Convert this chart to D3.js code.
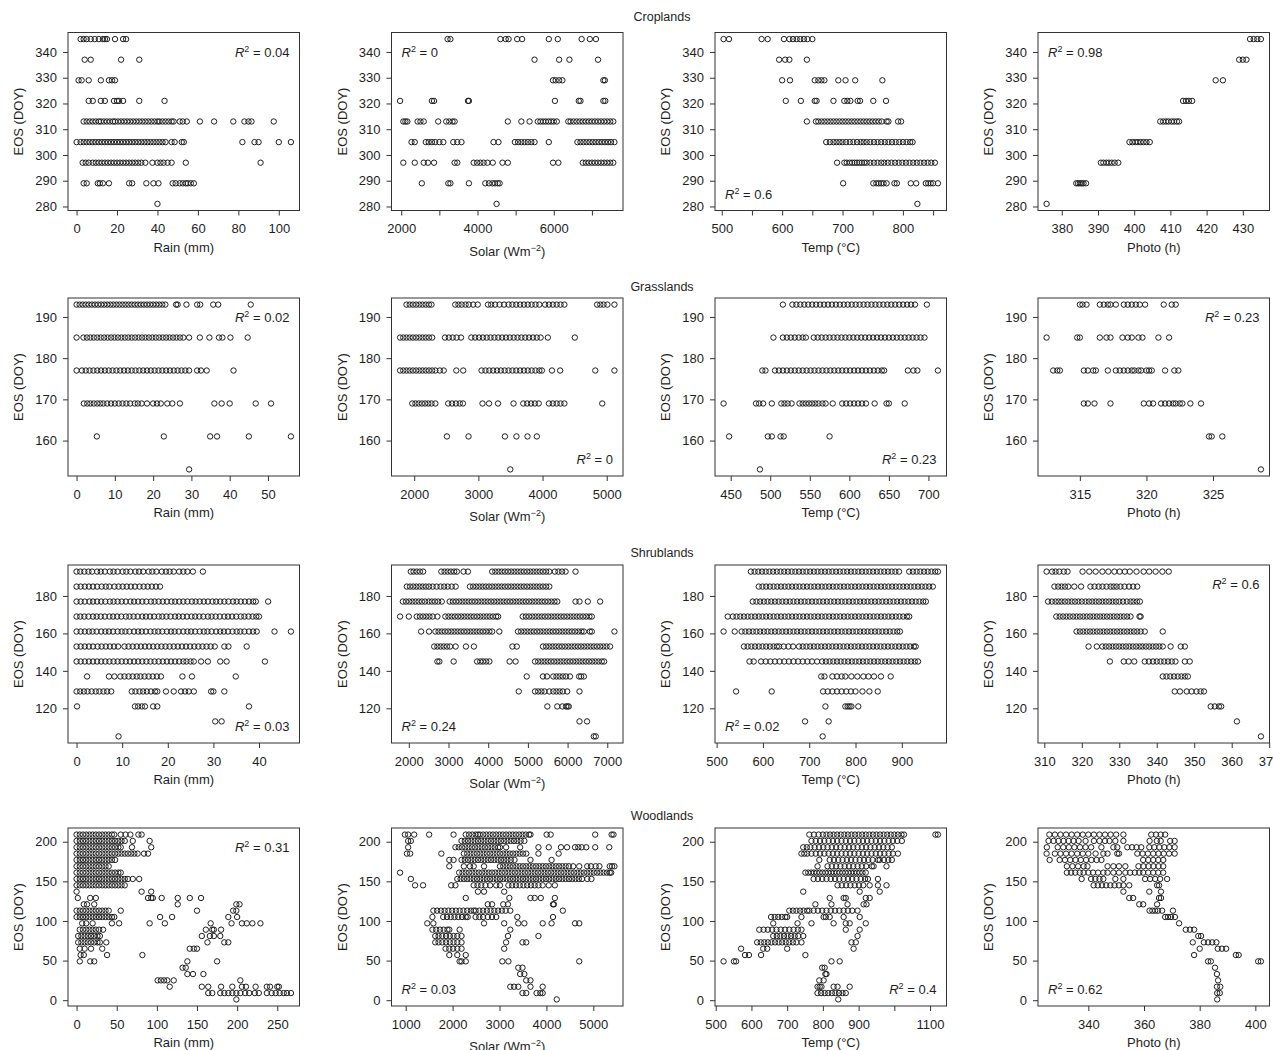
<!DOCTYPE html>
<html lang="en">
<head>
<meta charset="UTF-8">
<title>EOS against climate drivers by biome</title>
<script src="https://d3js.org/d3.v7.min.js"></script>
<style>
  body { margin: 0; background: #fff; }
  svg text { font-family: "Liberation Sans", Arial, Helvetica, sans-serif; fill: #1e1e1e; }
  .tick text { font-size: 13px; }
  .tick line { stroke: #333; }
</style>
</head>
<body>
<div id="chart"></div>
<script>
// rows = biomes, columns = drivers
const biomes = ["Croplands", "Grasslands", "Shrublands", "Woodlands"];
const drivers = ["Rain", "Solar", "Temp", "Photo"];
const xTitles = ["Rain (mm)", "Solar (Wm", "Temp (\u00B0C)", "Photo (h)"];
const r2Text = [
  ["0.04", "0", "0.6", "0.98"],
  ["0.02", "0", "0.23", "0.23"],
  ["0.03", "0.24", "0.02", "0.6"],
  ["0.31", "0.03", "0.4", "0.62"]
];
const r2Corner = [
  ["tr", "tl", "bl", "tl"],
  ["tr", "br", "br", "tr"],
  ["br", "bl", "bl", "tr"],
  ["tr", "bl", "br", "bl"]
];
const yTicks = [
  [280, 290, 300, 310, 320, 330, 340],
  [160, 170, 180, 190],
  [120, 140, 160, 180],
  [0, 50, 100, 150, 200]
];
const xTicks = [
  [[0, 20, 40, 60, 80, 100], [2000, 3000, 4000, 5000, 6000, 7000], [500, 550, 600, 650, 700, 750, 800, 850], [380, 390, 400, 410, 420, 430]],
  [[0, 10, 20, 30, 40, 50], [2000, 3000, 4000, 5000], [450, 500, 550, 600, 650, 700], [315, 320, 325]],
  [[0, 10, 20, 30, 40], [2000, 3000, 4000, 5000, 6000, 7000], [500, 600, 700, 800, 900], [310, 320, 330, 340, 350, 360, 370]],
  [[0, 50, 100, 150, 200, 250], [1000, 2000, 3000, 4000, 5000], [500, 600, 700, 800, 900, 1000, 1100], [340, 360, 380, 400]]
];
// ticks drawn without a label (R drops overlapping labels)
const xUnlabelled = [
  [[], [3000, 5000, 7000], [550, 650, 750, 850], []],
  [[], [], [], []],
  [[], [], [], []],
  [[], [], [1000], []]
];

// each row: [EOS (DOY), [driver values...]]
const cropRain = [
  [345, [2, 3.5, 5, 7, 9, 11, 13, 14, 15, 19, 23, 24.5]],
  [337, [4, 7, 22, 31]],
  [329, [1, 2.5, 6, 12, 16, 17.5, 19]],
  [321, [6, 8, 12, 14, 18.5, 20, 21, 23, 31, 43.5]],
  [313, [3.5, 5, 6.5, 8, 9.5, 11, 12, 13.5, 15, 16.5, 18, 19, 20.5, 22, 23.5, 25, 26.5, 28, 29.5, 31, 32.5, 34, 35.5, 37, 38.5, 40, 41, 42.5, 44, 45.5, 47, 48, 51, 52.5, 54.5, 61, 68, 77.5, 83, 85, 86.5, 97.5]],
  [305, [0, 2, 3.5, 5, 6.5, 8, 9.5, 11, 12.5, 14, 15.5, 17, 18.5, 20, 21.5, 23, 24.5, 26, 27.5, 29, 30.5, 32, 33.5, 35, 36.5, 38, 39.5, 41, 42.5, 44, 47, 48.5, 52, 53, 82, 88, 90, 100, 106]],
  [297, [3, 4.5, 6, 8, 9.5, 11, 12.5, 14, 15.5, 17, 18.5, 20, 21.5, 23, 24.5, 26, 27.5, 29, 30.5, 32, 34, 37.5, 40, 41.5, 43, 45, 47, 54, 91]],
  [289, [3.5, 5, 10.5, 11.5, 13, 16, 26, 27.5, 34.5, 38, 40.5, 47.5, 49, 51, 52.5, 54, 55, 56.5, 58]],
  [281, [40]]
];
const cropSolar = [
  [345, [3215, 3290, 4600, 4740, 4815, 5040, 5170, 5870, 6105, 6730, 6945, 7105]],
  [337, [5495, 6140, 6410, 7160]],
  [329, [5980, 6050, 6140, 6225, 7300, 7340]],
  [321, [1970, 2805, 2860, 3750, 3775, 6030, 6655, 6700, 7300, 7350]],
  [313, [2055, 2110, 2160, 2430, 2505, 2590, 2970, 3180, 3260, 3345, 3400, 4795, 5150, 5365, 5580, 5650, 5720, 5790, 5860, 5930, 6000, 6080, 6380, 6440, 6520, 6600, 6680, 6760, 6840, 6920, 7000, 7080, 7160, 7240, 7320, 7400, 7480, 7560]],
  [305, [2270, 2355, 2645, 2720, 2805, 2890, 3000, 3105, 3365, 3470, 3580, 4420, 4550, 4980, 5065, 5150, 5235, 5320, 5410, 5495, 5870, 6620, 6700, 6780, 6860, 6940, 7020, 7100, 7180, 7260, 7340, 7420, 7500, 7590]],
  [297, [2055, 2355, 2590, 2700, 2860, 3400, 3470, 3900, 3990, 4075, 4160, 4260, 4400, 4655, 4795, 5980, 6120, 6760, 6840, 6920, 7000, 7080, 7160, 7240, 7320, 7400, 7480, 7560]],
  [289, [2540, 3235, 3290, 3775, 4205, 4300, 4390, 4460, 4530, 4580]],
  [281, [4500]]
];
const cropTemp = [
  [345, [503, 512, 566, 576, 603, 612, 618, 624, 630, 636, 642, 650]],
  [337, [595, 605, 612, 641]],
  [329, [600, 613, 654, 660, 665, 670, 693, 705, 721, 766]],
  [321, [606, 631, 654, 657, 685, 703, 708, 713, 725, 729, 751, 772]],
  [313, [641, 656, 660, 665, 670, 675, 680, 685, 690, 695, 700, 705, 710, 715, 720, 725, 730, 735, 740, 745, 750, 755, 760, 765, 773, 776, 792, 797]],
  [305, [673, 679, 685, 690, 695, 700, 706, 712, 718, 724, 730, 735, 740, 746, 752, 758, 764, 770, 776, 782, 788, 794, 800, 806, 812, 816]],
  [297, [691, 703, 707, 712, 716, 720, 724, 728, 732, 736, 740, 746, 752, 758, 764, 769, 775, 781, 787, 793, 799, 805, 811, 817, 823, 829, 835, 841, 847, 853]],
  [289, [701, 751, 756, 760, 764, 768, 773, 786, 790, 813, 822, 838, 842, 846, 850, 858]],
  [281, [824]]
];
const cropPhoto = [
  [345, [432, 433, 434, 435]],
  [337, [429, 430, 431]],
  [329, [422.5, 424.5]],
  [321, [413.5, 414.3, 415.1, 416]],
  [313, [407.2, 408, 408.8, 409.5, 410.3, 411, 411.8, 412.4]],
  [305, [398.7, 399.5, 400.3, 401, 401.8, 402.6, 403.4, 404.3]],
  [297, [390.8, 391.5, 392.3, 393, 393.8, 394.6, 395.6]],
  [289, [384, 384.5, 385, 385.5, 386, 386.7]],
  [281, [375.8]]
];

const grassRain = [
  [193, [0, 0.8, 1.6, 2.4, 3.2, 4, 4.8, 5.6, 6.4, 7.2, 8, 8.8, 9.6, 10.4, 11.2, 12, 12.8, 13.6, 14.4, 15.2, 16, 16.8, 17.6, 18.4, 19.2, 20, 20.8, 21.6, 22.4, 23.2, 26, 26.4, 28.7, 31.5, 32.3, 35.7, 37, 45.5]],
  [185, [0, 1.8, 2.7, 3.6, 4.5, 5.4, 6.3, 7.2, 8.1, 9, 9.9, 10.8, 11.7, 12.6, 13.5, 14.4, 15.3, 16.2, 17.1, 18, 18.9, 19.8, 20.7, 21.6, 22.5, 23.4, 24.3, 25.2, 26.1, 27, 27.9, 29.4, 32.2, 34.7, 37.2, 38.1, 40.2, 44.7]],
  [177, [0, 1.4, 2.4, 3.4, 4.4, 5.4, 6.4, 7.4, 8.4, 9.4, 10.4, 11.4, 12.4, 13.4, 14.4, 15.4, 16.4, 17.4, 18.4, 19.4, 20.4, 21.4, 22.4, 23.4, 24.4, 25.4, 26.4, 27.4, 28.4, 29.4, 31.5, 32.5, 34, 41]],
  [169, [1.9, 2.8, 3.6, 4.5, 5.4, 6.2, 7, 8, 9, 10, 11, 12, 13, 14, 15.2, 16, 17, 18.4, 20, 21, 22, 23.7, 25, 27, 36, 37.9, 40, 46.8, 50.8]],
  [161, [5.3, 22.8, 34.9, 36.7, 45, 56]],
  [153, [29.4]]
];
const grassSolar = [
  [193, [1880, 1930, 1980, 2030, 2080, 2130, 2180, 2230, 2270, 2640, 2690, 2740, 2800, 2850, 2920, 2990, 3150, 3200, 3260, 3330, 3400, 3470, 3530, 3590, 3650, 3710, 3770, 3830, 3890, 3950, 4040, 4100, 4160, 4220, 4280, 4340, 4850, 4900, 4950, 5010, 5120]],
  [185, [1780, 1830, 1880, 1930, 1980, 2030, 2080, 2130, 2180, 2230, 2280, 2480, 2540, 2600, 2660, 2730, 2890, 2950, 3010, 3070, 3130, 3190, 3250, 3310, 3370, 3430, 3490, 3550, 3610, 3670, 3730, 3790, 3850, 3910, 3970, 4083, 4503]],
  [177, [1780, 1830, 1880, 1930, 1980, 2030, 2080, 2130, 2180, 2230, 2280, 2330, 2400, 2460, 2656, 2764, 3050, 3110, 3170, 3230, 3290, 3350, 3410, 3470, 3530, 3590, 3650, 3710, 3770, 3830, 3890, 3950, 3990, 4147, 4274, 4822, 5120]],
  [169, [1970, 2020, 2070, 2120, 2170, 2220, 2270, 2330, 2530, 2590, 2650, 2710, 2760, 3064, 3166, 3306, 3548, 3700, 3760, 3820, 3880, 3940, 4100, 4160, 4220, 4280, 4340, 4930]],
  [161, [2510, 2847, 3414, 3593, 3765, 3911]],
  [153, [3497]]
];
const grassTemp = [
  [193, [516, 528, 533, 538, 543, 548, 553, 558, 563, 568, 573, 578, 583, 588, 593, 598, 603, 608, 613, 618, 623, 628, 633, 638, 643, 648, 653, 658, 663, 668, 673, 678, 683, 698]],
  [185, [504, 516, 521, 526, 531, 536, 541, 545, 555, 560, 565, 570, 575, 580, 585, 590, 595, 600, 605, 610, 615, 620, 625, 630, 635, 640, 645, 650, 655, 660, 665, 670, 675, 680, 685, 690, 695]],
  [177, [490, 494, 506, 511, 516, 521, 526, 531, 536, 541, 546, 551, 556, 561, 566, 571, 576, 581, 586, 591, 596, 601, 606, 611, 616, 621, 626, 631, 636, 641, 644, 674, 681, 686, 712]],
  [169, [441, 482, 486, 491, 502, 514, 518, 522, 527, 537, 541, 545, 549, 553, 557, 561, 566, 570, 579, 591, 596, 601, 606, 611, 616, 621, 632, 647, 650, 670]],
  [161, [448, 497, 502, 513, 517, 575]],
  [153, [487]]
];
const grassPhoto = [
  [193, [315, 315.2, 315.5, 316.5, 316.8, 317.1, 317.3, 317.7, 318.3, 318.6, 318.9, 319.2, 319.5, 319.9, 321.3, 321.9, 322.2]],
  [185, [312.5, 314.8, 315, 316.5, 317, 317.3, 318.2, 318.6, 318.9, 319.4, 319.7, 320.9, 321.7]],
  [177, [313, 313.3, 313.5, 315.3, 315.6, 316, 316.2, 317.1, 317.7, 318, 318.3, 318.6, 318.9, 319.1, 319.4, 319.6, 320, 320.2, 320.4, 321.4, 322.1, 322.4]],
  [169, [315.3, 315.6, 316.1, 317.3, 319.8, 320.2, 320.5, 321.1, 321.4, 321.7, 322, 322.2, 322.5, 322.7, 323.3, 324.1]],
  [161, [324.7, 324.9, 325.7]],
  [153, [328.6]]
];

const shrubRain = [
  [193, [0, 0.8, 1.7, 2.6, 3.4, 4.5, 5.3, 6.2, 7.3, 8.1, 9, 10.1, 10.9, 11.8, 12.9, 13.7, 14.6, 15.8, 16.6, 17.5, 18.7, 19.6, 20.4, 21.3, 22.5, 23.4, 24.3, 25.5, 27.7]],
  [185, [0, 0.9, 1.8, 2.7, 3.6, 4.5, 5.5, 6.4, 7.2, 8.3, 9.2, 10.1, 11, 11.9, 12.8, 13.8, 14.7, 15.6, 16.5, 17.4, 18.3]],
  [177, [0, 0.9, 1.8, 2.8, 3.6, 4.5, 5.4, 6.3, 7.3, 8.1, 9, 9.9, 10.8, 11.8, 12.6, 13.5, 14.4, 15.3, 16.3, 17.1, 18, 18.9, 19.8, 20.8, 21.6, 22.5, 23.4, 24.3, 25.3, 26.1, 27, 27.9, 28.8, 29.8, 30.6, 31.5, 32.4, 33.3, 34.3, 35.1, 36, 36.9, 37.8, 38.7, 39.3, 42]],
  [169, [0, 0.8, 1.7, 2.6, 3.6, 4.4, 5.3, 6.2, 7.2, 8, 8.9, 9.8, 10.8, 11.6, 12.5, 13.4, 14.4, 15.2, 16.1, 17, 18, 18.8, 19.7, 20.6, 21.6, 22.4, 23.3, 24.2, 25.2, 26, 26.9, 27.8, 28.8, 29.6, 30.5, 31.4, 32.4, 33.2, 34.1, 35, 36, 36.8, 37.7, 38.6, 39.4, 40]],
  [161, [0, 0.9, 1.8, 2.7, 3.5, 4.4, 5.4, 6.3, 7.1, 8, 9, 9.9, 10.7, 11.6, 12.6, 13.5, 14.3, 15.2, 16.2, 17.1, 17.9, 18.8, 19.8, 20.7, 21.5, 22.4, 23.4, 24.3, 25.1, 26, 27, 27.9, 28.7, 29.6, 30.6, 31.5, 32.3, 33.2, 34.2, 35.1, 35.9, 36.8, 37.8, 38.7, 39.5, 43.4, 47]],
  [153, [0, 0.9, 1.8, 2.7, 3.6, 4.6, 5.5, 6.4, 7.3, 8.2, 9.1, 10.5, 11.4, 12.3, 13.2, 14.1, 15, 15.9, 16.8, 17.7, 18.6, 19.5, 20.4, 21.3, 22.2, 23.1, 24, 24.9, 25.8, 26.7, 27.6, 28.5, 29.4, 30.3, 32.4, 33.3, 37.3]],
  [145, [0, 0.9, 1.8, 2.7, 3.6, 4.5, 5.4, 6.3, 7.2, 8.1, 9, 9.9, 10.8, 11.7, 12.6, 13.5, 14.4, 15.3, 16.2, 17.1, 18, 18.9, 19.8, 20.7, 21.6, 22.5, 23.4, 24.1, 25, 25.7, 27.3, 28.8, 31.5, 32.9, 41.3]],
  [137, [2.3, 7.1, 8.3, 9.6, 10.5, 11.4, 12.3, 13.2, 14, 14.9, 15.8, 16.7, 17.6, 18.5, 23.2, 25.3, 34.9]],
  [129, [0, 0.8, 1.6, 2.4, 3.3, 4.2, 5, 5.9, 6.7, 7.6, 12.1, 12.9, 13.8, 14.6, 15.4, 16.3, 17.2, 17.7, 19.6, 21.3, 22.9, 23.8, 24.6, 25.7, 29.5, 30, 32.4]],
  [121, [0.1, 12.8, 13.5, 14.3, 15, 16.8, 17.7, 37.8]],
  [113, [30.4, 31.8]],
  [105, [9.2]]
];
const shrubSolar = [
  [193, [2050, 2120, 2200, 2280, 2360, 2820, 2900, 2980, 3060, 3140, 3210, 3380, 3490, 4100, 4180, 4260, 4340, 4420, 4500, 4580, 4660, 4740, 4820, 4900, 4980, 5060, 5140, 5220, 5300, 5380, 5460, 5540, 5680, 5770, 5860, 5950, 6200]],
  [185, [1950, 2030, 2110, 2190, 2270, 2350, 2430, 2510, 2600, 2700, 2800, 2890, 2980, 3080, 3180, 3540, 3620, 3700, 3780, 3860, 3940, 4020, 4100, 4180, 4260, 4340, 4420, 4500, 4580, 4660, 4740, 4820, 4900, 4980, 5060, 5140, 5220, 5300, 5380, 5460, 5540]],
  [177, [1850, 1930, 2010, 2090, 2170, 2250, 2330, 2410, 2500, 2580, 2660, 2740, 2830, 3030, 3110, 3190, 3270, 3350, 3430, 3510, 3590, 3670, 3750, 3830, 3910, 3990, 4070, 4150, 4230, 4310, 4390, 4470, 4550, 4630, 4710, 4790, 4870, 4950, 5030, 5110, 5190, 5270, 5350, 5430, 5510, 5590, 5670, 5740, 6200, 6300, 6510, 6820]],
  [169, [1780, 2000, 2200, 2280, 2360, 2440, 2520, 2600, 2720, 2920, 3000, 3080, 3160, 3240, 3320, 3400, 3480, 3560, 3640, 3720, 3800, 3880, 3960, 4040, 4120, 4200, 4250, 4870, 4950, 5030, 5110, 5190, 5270, 5350, 5430, 5510, 5590, 5670, 5750, 5830, 5910, 5990, 6070, 6150, 6230, 6310, 6390, 6470, 6550, 6610]],
  [161, [2310, 2510, 2670, 2750, 2830, 2910, 2990, 3070, 3150, 3230, 3310, 3390, 3470, 3550, 3630, 3710, 3790, 3870, 3950, 4030, 4100, 4280, 4750, 4830, 4910, 4990, 5070, 5150, 5230, 5310, 5390, 5470, 5550, 5630, 5710, 5790, 5870, 5950, 6030, 6110, 6190, 6270, 6350, 6410, 6560, 6610, 7180]],
  [153, [2640, 2720, 2800, 2880, 2960, 3040, 3180, 3440, 3640, 4610, 4720, 5380, 5460, 5540, 5620, 5700, 5780, 5860, 5940, 6020, 6100, 6180, 6260, 6340, 6420, 6500, 6580, 6660, 6740, 6820, 6900, 6980, 7070]],
  [145, [2720, 2770, 3130, 3720, 3800, 3870, 3950, 4030, 4540, 4690, 5180, 5260, 5340, 5420, 5500, 5580, 5660, 5740, 5820, 5900, 5980, 6060, 6140, 6220, 6300, 6380, 6460, 6540, 6620, 6700, 6780, 6860, 6920]],
  [137, [4970, 5380, 5480, 5640, 5720, 5800, 5880, 5960, 6060, 6290, 6340, 6410]],
  [129, [4770, 5180, 5260, 5340, 5420, 5540, 5640, 5720, 5800, 5880, 5990, 6300]],
  [121, [5490, 5740, 5870, 5960, 6000, 6030]],
  [113, [6300, 6490]],
  [105, [6660, 6710]]
];
const shrubTemp = [
  [193, [574, 582, 590, 598, 606, 614, 622, 630, 638, 646, 654, 662, 670, 678, 686, 694, 702, 710, 718, 726, 734, 742, 750, 758, 766, 774, 782, 790, 798, 806, 814, 822, 830, 838, 846, 854, 862, 870, 878, 886, 894, 916, 924, 932, 940, 948, 956, 964, 972, 978]],
  [185, [591, 599, 607, 615, 623, 631, 639, 647, 655, 663, 671, 679, 687, 695, 703, 711, 719, 727, 735, 743, 751, 759, 767, 775, 783, 791, 799, 807, 815, 823, 831, 839, 847, 855, 863, 871, 879, 887, 895, 903, 911, 919, 927, 935, 943, 951, 959, 967]],
  [177, [578, 586, 594, 602, 610, 618, 626, 634, 642, 650, 658, 666, 674, 682, 690, 698, 706, 714, 722, 730, 738, 746, 754, 762, 770, 778, 786, 794, 802, 810, 818, 826, 834, 842, 850, 858, 866, 874, 882, 890, 898, 906, 914, 922, 930, 938, 946, 952]],
  [169, [524, 535, 543, 551, 559, 567, 575, 583, 591, 599, 607, 615, 623, 631, 639, 647, 655, 663, 671, 679, 687, 695, 703, 711, 719, 727, 735, 743, 751, 759, 767, 775, 783, 791, 799, 807, 815, 823, 831, 839, 847, 855, 863, 871, 879, 887, 895, 903, 911, 916]],
  [161, [515, 539, 554, 562, 570, 578, 586, 594, 602, 610, 618, 626, 634, 642, 650, 658, 666, 674, 682, 690, 698, 706, 714, 722, 730, 738, 746, 754, 762, 770, 778, 786, 794, 802, 810, 818, 826, 834, 842, 850, 858, 866, 874, 882, 890, 896]],
  [153, [559, 567, 575, 583, 591, 599, 607, 615, 623, 630, 635, 645, 655, 665, 678, 686, 694, 702, 710, 718, 726, 734, 742, 750, 758, 766, 774, 782, 790, 798, 806, 814, 822, 830, 838, 846, 854, 862, 870, 878, 886, 894, 902, 910, 918, 926, 930]],
  [145, [571, 580, 596, 606, 616, 626, 636, 646, 656, 666, 676, 686, 696, 706, 717, 728, 736, 744, 752, 760, 768, 776, 784, 792, 800, 808, 816, 824, 832, 840, 848, 856, 864, 872, 880, 888, 896, 904, 912, 920, 928, 935]],
  [137, [726, 733, 750, 760, 770, 778, 791, 804, 817, 828, 840, 855, 876]],
  [129, [542, 619, 730, 740, 750, 760, 770, 780, 790, 800, 815, 830, 848]],
  [121, [735, 778, 783, 787, 791, 806]],
  [113, [691, 742]],
  [105, [729]]
];
const shrubPhoto = [
  [193, [310.6, 312.1, 313, 314, 315.2, 316.2, 320.2, 322, 323.7, 325.5, 327.1, 328.7, 330.1, 331.5, 332.8, 334.6, 336.5, 338, 339.7, 341.5, 343.2]],
  [185, [312.7, 313.7, 314.6, 315.5, 316.4, 318, 319.8, 322.3, 323.4, 324.5, 325.5, 326.6, 327.7, 328.5, 329.3, 330.3, 331.4, 332.6, 333.7, 334.8]],
  [177, [311, 312, 313, 313.8, 314.6, 315.5, 316.4, 317.3, 318.2, 319.1, 320, 321, 321.9, 322.8, 323.7, 324.6, 325.5, 326.4, 327.3, 328.2, 329.1, 330, 331, 332, 333, 333.8, 334.7, 335.5]],
  [169, [313.2, 314.1, 315, 315.9, 316.8, 317.7, 318.6, 319.5, 320.4, 321.3, 322.2, 323.1, 324, 324.9, 325.8, 326.7, 327.6, 328.5, 329.4, 330.3, 331.2, 332.1, 333, 335.4, 335.7]],
  [161, [318.6, 319.5, 320.4, 321.3, 322.2, 323.1, 324, 324.9, 325.8, 326.7, 327.6, 328.5, 329.4, 330.3, 331.2, 332.1, 333, 333.9, 334.8, 335.7, 336.8, 341.6]],
  [153, [321.8, 324, 325.5, 326.4, 327.3, 328.2, 329.1, 330, 330.9, 331.8, 332.7, 333.6, 334.5, 335.4, 336.2, 337.1, 338, 338.9, 339.8, 340.7, 341.6, 343.7, 346.4, 347.5]],
  [145, [327.5, 331.2, 332.5, 334, 336.8, 337.9, 339, 340, 341, 342, 343, 344, 345, 347.5, 348.8]],
  [137, [341.6, 342.6, 343.6, 344.6, 345.6, 346.6, 347.5, 348.3]],
  [129, [344.8, 346.2, 348, 349.3, 350.6, 351.7, 352.6]],
  [121, [354.4, 355.5, 356.6, 357.2]],
  [113, [361.4]],
  [105, [367.8]]
];

const woodRain = [
  [209, [0, 4, 8, 12, 16, 20, 24, 28, 32, 36, 40, 44, 47, 55, 61, 67, 77, 81]],
  [201, [0, 4, 8, 12, 16, 20, 24, 28, 32, 36, 40, 44, 48, 52, 56, 60, 70, 91]],
  [193, [0, 4, 8, 12, 16, 20, 24, 28, 32, 36, 40, 44, 48, 52, 55, 69, 93]],
  [185, [0, 4, 8, 12, 16, 20, 24, 28, 32, 36, 40, 44, 48, 52, 56, 60, 64, 68, 72, 76, 84, 89]],
  [177, [0, 4, 8, 12, 16, 20, 24, 28, 32, 36, 40, 44, 48]],
  [169, [0, 4, 8, 12, 16, 20, 24, 28, 32, 36, 40]],
  [161, [0, 4, 8, 12, 16, 20, 24, 28, 32, 36, 40, 44, 48, 52, 55]],
  [153, [0, 4, 8, 12, 16, 20, 24, 28, 32, 36, 40, 44, 48, 52, 56, 60, 64, 70, 78]],
  [145, [0, 4, 8, 12, 16, 20, 24, 28, 32, 36, 40, 44, 48, 52, 56, 60]],
  [137, [0, 81, 93]],
  [129, [1.5, 17, 24, 89, 93, 95, 106, 126, 141, 155]],
  [121, [9, 13, 22, 126, 199, 203]],
  [113, [0, 4, 8, 12, 16, 20, 24, 28, 32, 36, 40, 55, 150, 195, 199]],
  [105, [0, 4, 8, 12, 16, 20, 24, 28, 32, 36, 40, 44, 47, 104, 119, 189, 200]],
  [97, [7, 12, 20, 44, 53, 91, 110, 167, 193, 206, 212, 219, 229]],
  [89, [4, 8, 12, 16, 20, 24, 28, 33, 161, 169, 171, 180]],
  [81, [2, 6, 10, 14, 18, 22, 26, 29, 156, 166, 171, 179]],
  [73, [2, 6, 10, 14, 18, 22, 26, 29, 37, 163, 184, 189]],
  [65, [4, 10, 18, 32, 141, 146, 150]],
  [57, [5, 9, 38, 82]],
  [49, [4, 17, 22, 138, 175]],
  [41, [132, 136]],
  [33, [138, 145, 158]],
  [25, [101, 105, 109, 113, 121, 204]],
  [17, [116, 156, 164, 180, 194, 206, 211, 223, 237, 241, 250, 252]],
  [9, [164, 169, 179, 184, 189, 194, 199, 204, 210, 215, 222, 227, 237, 243, 248, 253, 258, 262, 267]],
  [1, [199]]
];
const woodSolar = [
  [209, [983, 1052, 1180, 1500, 2020, 2280, 2350, 2420, 2490, 2540, 2580, 2650, 2720, 2790, 2860, 2930, 3000, 3070, 3140, 3210, 3280, 3350, 3420, 3490, 3560, 3630, 3660, 4005, 4090, 5040, 5390, 5430]],
  [201, [1052, 1110, 2190, 2260, 2330, 2400, 2470, 2540, 2610, 2680, 2750, 2820, 2890, 2960, 3030, 3100, 3170, 3240, 3310, 3380, 3450, 3530]],
  [193, [1052, 2060, 2130, 2200, 2270, 2340, 2410, 2480, 2550, 2620, 2690, 2760, 2830, 2900, 2970, 3010, 3140, 3440, 3830, 4050, 4310, 4440, 4610, 4680, 4750, 4850, 5040, 5340]],
  [185, [1026, 1095, 1760, 2240, 2310, 2380, 2450, 2520, 2590, 2660, 2730, 2800, 2870, 2940, 3010, 3080, 3150, 3220, 3290, 3360, 3430, 3500, 3570, 3830, 4260]],
  [177, [1930, 2020, 2190, 2260, 2330, 2400, 2470, 2540, 2610, 2680, 2750, 2820, 2890, 2960, 3030, 3100, 3170, 3240, 3320, 3660, 4110]],
  [169, [1930, 2240, 2370, 2450, 2670, 3010, 3080, 3150, 3220, 3290, 3360, 3430, 3500, 3570, 3640, 3710, 3780, 3850, 3920, 3990, 4060, 4130, 4200, 4270, 4340, 4410, 4480, 4570, 4700, 4870, 4950, 5050, 5130, 5350, 5400, 5450]],
  [161, [880, 2140, 2210, 2280, 2350, 2420, 2490, 2560, 2630, 2700, 2770, 2840, 2910, 2980, 3050, 3120, 3190, 3260, 3330, 3400, 3470, 3540, 3610, 3680, 3750, 3820, 3890, 3960, 4030, 4100, 4170, 4240, 4310, 4380, 4450, 4520, 4590, 4660, 4730, 4800, 4870, 4940, 5010, 5080, 5150, 5220, 5290, 5350, 5380]],
  [153, [1110, 2100, 2170, 2240, 2310, 2380, 2450, 2520, 2590, 2660, 2730, 2800, 2870, 2940, 3010, 3080, 3150, 3220, 3290, 3360, 3430, 3500, 3570, 3640, 3710, 3780, 3850, 3920, 3990, 4060, 4130, 4200, 4270, 4340, 4410, 4480, 4550, 4620, 4690, 4760, 4870, 4960]],
  [145, [1200, 1370, 1970, 2060, 2450, 2530, 2610, 2700, 2800, 2930, 3010, 3190, 3270, 3350, 3430, 3510, 3590, 3670, 3750, 3830, 3920, 4050, 4180]],
  [137, [2540, 2670, 3100]],
  [129, [2280, 3210, 3660, 3750, 3880, 4180]],
  [121, [2750, 2840, 3080, 3180, 4140, 4160]],
  [113, [1590, 1670, 1750, 1830, 1910, 1990, 2070, 2150, 2230, 2310, 2390, 2450, 2490, 2570, 2650, 2730, 2810, 2890, 2970, 3050, 3130, 3230, 4350]],
  [105, [1570, 1800, 1880, 1960, 2040, 2120, 2200, 2280, 2320, 2490, 2570, 2650, 2750, 2840, 2930, 3380, 4140]],
  [97, [1460, 1590, 2670, 3100, 3400, 3530, 3920, 4110, 4610, 4700]],
  [89, [1570, 1650, 1730, 1810, 1890, 1930, 2150, 3230]],
  [81, [1630, 1700, 1780, 1860, 1940, 2020, 2100, 2190, 3180, 3830]],
  [73, [1630, 1700, 1780, 1860, 1940, 2020, 2100, 2190, 3140, 3490, 3570]],
  [65, [1850, 1930, 2010, 2100, 2190, 3100]],
  [57, [1930, 2100, 2280]],
  [49, [2150, 2190, 2280, 3060, 3190, 4700]],
  [41, [3400, 3490]],
  [33, [3440, 3530]],
  [25, [3570, 3660]],
  [17, [3230, 3310, 3400, 3660, 3920]],
  [9, [3490, 3570, 3790, 3870, 3920]],
  [1, [4220]]
];
const woodTemp = [
  [209, [762, 775, 788, 800, 810, 820, 830, 840, 850, 860, 870, 880, 890, 900, 910, 920, 930, 940, 950, 960, 970, 980, 990, 1000, 1010, 1020, 1027, 1115, 1122]],
  [201, [768, 780, 792, 804, 816, 828, 840, 852, 864, 876, 888, 900, 912, 924, 936, 948, 960, 972, 984, 996, 1008, 1021]],
  [193, [745, 755, 765, 777, 789, 801, 813, 825, 837, 849, 861, 873, 885, 897, 909, 921, 933, 945, 957, 969, 981, 993]],
  [185, [740, 748, 756, 768, 780, 792, 804, 816, 828, 840, 852, 864, 876, 888, 900, 912, 924, 936, 948, 960, 972, 984, 996, 1010]],
  [177, [790, 819, 831, 843, 855, 867, 879, 891, 903, 915, 927, 939, 954, 959, 971, 983, 993]],
  [169, [785, 813, 825, 837, 849, 861, 873, 885, 897, 909, 921, 937, 942, 978]],
  [161, [751, 759, 767, 775, 783, 791, 799, 807, 815, 823, 831, 839, 847, 855, 863, 871, 879, 887, 895, 903, 911, 920]],
  [153, [774, 786, 798, 810, 822, 834, 846, 858, 870, 882, 894, 906, 918, 926, 954]],
  [145, [841, 853, 865, 877, 889, 901, 913, 931, 954, 978]],
  [137, [745, 903, 959]],
  [129, [819, 858, 864, 920, 931]],
  [121, [779, 824, 869, 914, 922]],
  [113, [706, 716, 726, 736, 746, 756, 762, 774, 786, 798, 810, 822, 834, 846, 858, 870, 882, 897]],
  [105, [655, 665, 675, 685, 695, 700, 740, 802, 808, 819, 858, 903]],
  [97, [661, 729, 768, 830, 864, 875, 920]],
  [89, [622, 634, 646, 658, 670, 682, 694, 706, 718, 730, 740, 864, 903]],
  [81, [661, 671, 681, 691, 701, 711, 721, 731, 745, 897]],
  [73, [616, 626, 636, 646, 656, 666, 676, 686, 696, 706, 716, 726, 740, 880, 892]],
  [65, [571, 633, 644, 700, 886]],
  [57, [582, 593, 627, 751]],
  [49, [522, 551, 557, 824, 847]],
  [41, [798, 805]],
  [33, [807, 810]],
  [25, [790, 802]],
  [17, [785, 791, 796, 830, 841, 875]],
  [9, [785, 795, 805, 815, 825, 835, 845, 855, 864]],
  [1, [843]]
];
const woodPhoto = [
  [209, [326, 328, 330, 332, 334, 336, 338, 340, 342, 344, 346, 348, 350, 352.6, 362.6, 364.3, 366, 367.6]],
  [201, [325.7, 327.5, 329.3, 331.1, 332.9, 334.7, 336.5, 339, 342, 344, 346, 347.6, 349.7, 352.6, 362, 364.6, 366, 369.4, 371]],
  [193, [325.1, 329, 331, 333, 335, 337, 339, 341, 344.7, 349, 350.4, 354, 355.7, 357.3, 359, 361.9, 363.7, 365.5, 367.3, 369.1, 371]],
  [185, [325, 328, 330, 332, 334, 336, 338, 340, 342.6, 345.4, 346.9, 350.4, 351, 357.6, 359.5, 361.4, 363.3, 365.2, 367.1, 369, 371]],
  [177, [326.1, 329.7, 331.6, 333.5, 335.4, 337.3, 339.2, 341.1, 343, 344.7, 359.7, 361.5, 363.3, 365.1, 366.9]],
  [169, [332.3, 334.3, 336.3, 338.3, 339.7, 346.9, 349, 351, 353.3, 358, 359.8, 361.6, 363.4, 365.2, 366.9]],
  [161, [332.3, 333.8, 335.3, 336.9, 338.3, 340, 341.7, 343.5, 345.4, 346.9, 349, 351, 353.3, 355, 356.7, 358.3, 359.7, 361.5, 363.3, 365.1, 366.9]],
  [153, [337.6, 341, 342.5, 344, 345.4, 349.7, 352.6, 360.4, 362.2, 364, 365.8, 368.3]],
  [145, [341.9, 343.4, 344.9, 346.4, 347.9, 349.4, 351, 352.6, 354.7, 364.7, 365.4]],
  [137, [352.6, 361.9, 366.1]],
  [129, [354.7, 356.1, 365.4, 366.1]],
  [121, [358.3, 359.7, 364.7]],
  [113, [362, 363, 364, 365, 366.5, 370.4]],
  [105, [367.6, 368.6, 369.7, 371.1]],
  [97, [372.6]],
  [89, [375, 376.5, 378]],
  [81, [379.5, 380.5]],
  [73, [377.5, 381.5, 383, 384.5, 386]],
  [65, [380, 386.5, 388, 389.5]],
  [57, [378, 393, 394]],
  [49, [383, 384, 401, 402]],
  [41, [385.5]],
  [33, [386.2]],
  [25, [386.6]],
  [17, [386.2, 387.4]],
  [9, [386.3, 387.2]],
  [1, [386.3]]
];

const panels = [
  [cropRain, cropSolar, cropTemp, cropPhoto],
  [grassRain, grassSolar, grassTemp, grassPhoto],
  [shrubRain, shrubSolar, shrubTemp, shrubPhoto],
  [woodRain, woodSolar, woodTemp, woodPhoto]
];

// page layout
const colLeft = [68, 391.5, 715, 1038];
const rowTop = [32.5, 298, 565, 828];
const boxW = 231.5, boxH = 178;
const titleY = [21, 290.5, 556.5, 819.5];

const svg = d3.select("#chart").append("svg")
    .attr("width", 1273)
    .attr("height", 1050);

// R-style axis range: data extent stretched by 4% each side
function rPad(ext) {
    const d = (ext[1] - ext[0]) * 0.04;
    return [ext[0] - d, ext[1] + d];
}

biomes.forEach((biome, r) => {
    svg.append("text")
        .attr("x", 662)
        .attr("y", titleY[r])
        .attr("text-anchor", "middle")
        .style("font-size", "12.5px")
        .text(biome);

    drivers.forEach((drv, c) => {
        const pts = panels[r][c].flatMap(([eos, xs]) => xs.map(v => ({x: v, y: eos})));
        const x = d3.scaleLinear()
            .domain(rPad(d3.extent(pts, d => d.x)))
            .range([0, boxW]);
        const y = d3.scaleLinear()
            .domain(rPad(d3.extent(pts, d => d.y)))
            .range([boxH, 0]);

        const g = svg.append("g")
            .attr("transform", `translate(${colLeft[c]},${rowTop[r]})`);

        // x axis
        const hide = xUnlabelled[r][c];
        const xa = g.append("g")
            .attr("transform", `translate(0,${boxH})`)
            .call(d3.axisBottom(x)
                .tickValues(xTicks[r][c])
                .tickSize(5)
                .tickPadding(8.5)
                .tickFormat(d => hide.includes(d) ? "" : d));
        xa.attr("font-family", null).attr("font-size", null);
        xa.select(".domain").remove();

        // y axis
        const ya = g.append("g")
            .call(d3.axisLeft(y)
                .tickValues(yTicks[r])
                .tickSize(5)
                .tickPadding(6));
        ya.attr("font-family", null).attr("font-size", null);
        ya.select(".domain").remove();

        // plot box
        g.append("rect")
            .attr("width", boxW)
            .attr("height", boxH)
            .attr("fill", "none")
            .attr("stroke", "#333")
            .attr("stroke-width", 1);

        // points, open circles
        g.append("g").selectAll("circle")
            .data(pts)
            .join("circle")
            .attr("cx", d => x(d.x))
            .attr("cy", d => y(d.y))
            .attr("r", 2.7)
            .attr("fill", "none")
            .attr("stroke", "#1f1f1f")
            .attr("stroke-width", 1);

        // y title
        g.append("text")
            .attr("transform", `translate(-45,${boxH / 2}) rotate(-90)`)
            .attr("text-anchor", "middle")
            .style("font-size", "13px")
            .text("EOS (DOY)");

        // x title
        const xt = g.append("text")
            .attr("x", boxW / 2)
            .attr("y", boxH + (c === 1 ? 45 : 41))
            .attr("text-anchor", "middle")
            .style("font-size", "13px");
        if (c === 1) {
            xt.append("tspan").text("Solar (Wm");
            xt.append("tspan").attr("dy", -5).style("font-size", "9px").text("\u22122");
            xt.append("tspan").attr("dy", 5).text(")");
        } else {
            xt.text(xTitles[c]);
        }

        // R squared label
        const corner = r2Corner[r][c];
        const right = corner[1] === "r";
        const top = corner[0] === "t";
        const lab = g.append("text")
            .attr("x", right ? boxW - 10 : 10)
            .attr("y", top ? 24 : boxH - 12)
            .attr("text-anchor", right ? "end" : "start")
            .style("font-size", "13px");
        lab.append("tspan").style("font-style", "italic").text("R");
        lab.append("tspan").attr("dy", -5).style("font-size", "9px").text("2");
        lab.append("tspan").attr("dy", 5).text(" = " + r2Text[r][c]);
    });
});
</script>
</body>
</html>
